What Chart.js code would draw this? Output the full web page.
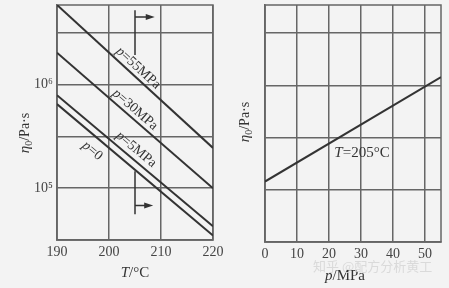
<!DOCTYPE html>
<html>
<head>
<meta charset="utf-8">
<script src="https://cdn.jsdelivr.net/npm/chart.js@4"></script>
<style>
  html, body { margin: 0; padding: 0; background: #f3f3f3; }
  #wrap { position: relative; width: 449px; height: 288px; }
  canvas { position: absolute; top: 0; }
  #left { left: 0; }
  #right { left: 225px; }
  #mark { position: absolute; left: 313px; top: 256px; font: 13px "Noto Sans CJK SC"; color: #dadada; white-space: nowrap; }
</style>
</head>
<body>
<div id="wrap">
  <canvas id="left" width="225" height="288"></canvas>
  <canvas id="right" width="224" height="288"></canvas>
  <div id="mark">知乎 @配方分析黄工</div>
</div>
<script>
// left panel: viscosity vs temperature at several pressures
const tempC = [190, 220];
const etaP55 = [5.9e6, 2.45e5];
const etaP30 = [2.04e6, 1.0e5];
const etaP5 = [7.9e5, 4.3e4];
const etaP0 = [6.5e5, 3.5e4];
const tTicks = [190, 200, 210, 220];

// right panel: viscosity vs pressure at 205 °C
const pressureMPa = [0, 55];
const eta205 = [1.2e5, 1.2e6];
const pTicks = [0, 10, 20, 30, 40, 50];

// shared log axis
const etaGrid = [Math.pow(10, 4.5), 1e5, Math.pow(10, 5.5), 1e6, Math.pow(10, 6.5)];
const etaTickLabels = ['', '10⁵', '', '10⁶', ''];
const etaMin = Math.pow(10, 4.5);
const etaMax = Math.pow(10, 6.77);

const ink = '#333';
const gridCol = '#666';
const serif = '"Liberation Serif", "DejaVu Serif", serif';

function drawRich(ctx, parts, cx, cy, angle) {
  ctx.save();
  ctx.translate(cx, cy);
  ctx.rotate(angle || 0);
  ctx.textBaseline = 'middle';
  ctx.fillStyle = ink;
  let total = 0;
  parts.forEach(p => { ctx.font = p.font; total += ctx.measureText(p.t).width; });
  let x = -total / 2;
  parts.forEach(p => {
    ctx.font = p.font;
    ctx.fillText(p.t, x, p.dy || 0);
    x += ctx.measureText(p.t).width;
  });
  ctx.restore();
}

const it = (t, s) => ({ t: t, font: 'italic ' + (s || 14) + 'px ' + serif });
const up = (t, s, dy) => ({ t: t, font: (s || 14) + 'px ' + serif, dy: dy });
const etaTitle = [it('η', 15), up('0', 10, 4), up('/Pa·s', 14)];

function lineSet(data) {
  return {
    data: data,
    borderColor: ink,
    borderWidth: 2,
    pointRadius: 0,
    fill: false
  };
}

function yAxis(width, showLabels) {
  return {
    type: 'logarithmic',
    min: etaMin,
    max: etaMax,
    afterBuildTicks: s => { s.ticks = etaGrid.map(v => ({ value: v })); },
    afterFit: s => { s.width = width; s.paddingTop = 0; s.paddingBottom = 0; },
    grid: { color: gridCol, lineWidth: 1.5, drawTicks: false },
    border: { color: gridCol, width: 1.5 },
    ticks: {
      display: showLabels,
      padding: 4,
      color: '#444',
      font: { family: serif, size: 14 },
      callback: (v, i) => etaTickLabels[i] || ''
    }
  };
}

function xAxis(min, max, ticks, height) {
  return {
    type: 'linear',
    min: min,
    max: max,
    afterBuildTicks: s => { s.ticks = ticks.map(v => ({ value: v })); },
    afterFit: s => { s.height = height; s.paddingLeft = 0; s.paddingRight = 0; },
    grid: { color: gridCol, lineWidth: 1.5, drawTicks: false },
    border: { color: gridCol, width: 1.5 },
    ticks: {
      padding: 4,
      color: '#444',
      maxRotation: 0,
      autoSkip: false,
      font: { family: serif, size: 14 },
      callback: v => String(v)
    }
  };
}

// frame on the open sides of the plot area
const frame = {
  id: 'frame',
  beforeDatasetsDraw(chart) {
    const a = chart.chartArea;
    const ctx = chart.ctx;
    ctx.save();
    ctx.strokeStyle = gridCol;
    ctx.lineWidth = 1.5;
    ctx.strokeRect(a.left, a.top, a.right - a.left, a.bottom - a.top);
    ctx.restore();
  }
};

// line labels and T = 205 markers for the left panel
const leftNotes = {
  id: 'leftNotes',
  afterDraw(chart) {
    const ctx = chart.ctx;
    const xs = chart.scales.x, ys = chart.scales.y;
    const slope = ds => {
      const d = chart.data.datasets[ds].data;
      return Math.atan2(ys.getPixelForValue(d[1].y) - ys.getPixelForValue(d[0].y),
                        xs.getPixelForValue(d[1].x) - xs.getPixelForValue(d[0].x));
    };
    const labels = [
      { parts: [it('p'), up('=55MPa')], x: 205.6, y: 1.45e6, ds: 0 },
      { parts: [it('p'), up('=30MPa')], x: 205.0, y: 5.75e5, ds: 1 },
      { parts: [it('p'), up('=5MPa')], x: 205.2, y: 2.37e5, ds: 2 },
      { parts: [it('p'), up('=0')], x: 196.8, y: 2.3e5, ds: 3 }
    ];
    labels.forEach(l => drawRich(ctx, l.parts, xs.getPixelForValue(l.x), ys.getPixelForValue(l.y), slope(l.ds)));

    const marks = [
      { x: 205, y0: 5.25e6, y1: 1.94e6, ya: 4.5e6, xa: 208.8 },
      { x: 205, y0: 1.46e5, y1: 5.6e4, ya: 6.8e4, xa: 208.5 }
    ];
    ctx.save();
    ctx.strokeStyle = ink;
    ctx.fillStyle = ink;
    ctx.lineWidth = 1.5;
    marks.forEach(m => {
      const px = xs.getPixelForValue(m.x);
      const pa = xs.getPixelForValue(m.xa);
      const py = ys.getPixelForValue(m.ya);
      ctx.beginPath();
      ctx.moveTo(px, ys.getPixelForValue(m.y0));
      ctx.lineTo(px, ys.getPixelForValue(m.y1));
      ctx.moveTo(px, py);
      ctx.lineTo(pa - 6, py);
      ctx.stroke();
      ctx.beginPath();
      ctx.moveTo(pa, py);
      ctx.lineTo(pa - 9, py - 3);
      ctx.lineTo(pa - 9, py + 3);
      ctx.closePath();
      ctx.fill();
    });
    ctx.restore();

    drawRich(ctx, etaTitle, 25, 133, -Math.PI / 2);
    drawRich(ctx, [it('T', 15), up('/°C', 15)], 135, 273, 0);
  }
};

new Chart(document.getElementById('left'), {
  type: 'line',
  data: {
    datasets: [
      lineSet(tempC.map((t, i) => ({ x: t, y: etaP55[i] }))),
      lineSet(tempC.map((t, i) => ({ x: t, y: etaP30[i] }))),
      lineSet(tempC.map((t, i) => ({ x: t, y: etaP5[i] }))),
      lineSet(tempC.map((t, i) => ({ x: t, y: etaP0[i] })))
    ]
  },
  options: {
    responsive: false,
    animation: false,
    devicePixelRatio: 1,
    layout: { padding: { top: 5, right: 12, left: 0, bottom: 0 } },
    plugins: { legend: { display: false }, tooltip: { enabled: false } },
    scales: {
      x: xAxis(190, 220, tTicks, 48),
      y: yAxis(57, true)
    }
  },
  plugins: [frame, leftNotes]
});

const rightNotes = {
  id: 'rightNotes',
  afterDraw(chart) {
    const ctx = chart.ctx;
    drawRich(ctx, [it('T', 15), up('=205°C', 15)], 137, 153, 0);
    drawRich(ctx, etaTitle, 20, 122, -Math.PI / 2);
    drawRich(ctx, [it('p', 15), up('/MPa', 15)], 120, 276, 0);
  }
};

new Chart(document.getElementById('right'), {
  type: 'line',
  data: {
    datasets: [
      lineSet(pressureMPa.map((p, i) => ({ x: p, y: eta205[i] })))
    ]
  },
  options: {
    responsive: false,
    animation: false,
    devicePixelRatio: 1,
    layout: { padding: { top: 5, right: 8, left: 0, bottom: 0 } },
    plugins: { legend: { display: false }, tooltip: { enabled: false } },
    scales: {
      x: xAxis(0, 55, pTicks, 46),
      y: yAxis(40, false)
    }
  },
  plugins: [frame, rightNotes]
});
</script>
</body>
</html>
